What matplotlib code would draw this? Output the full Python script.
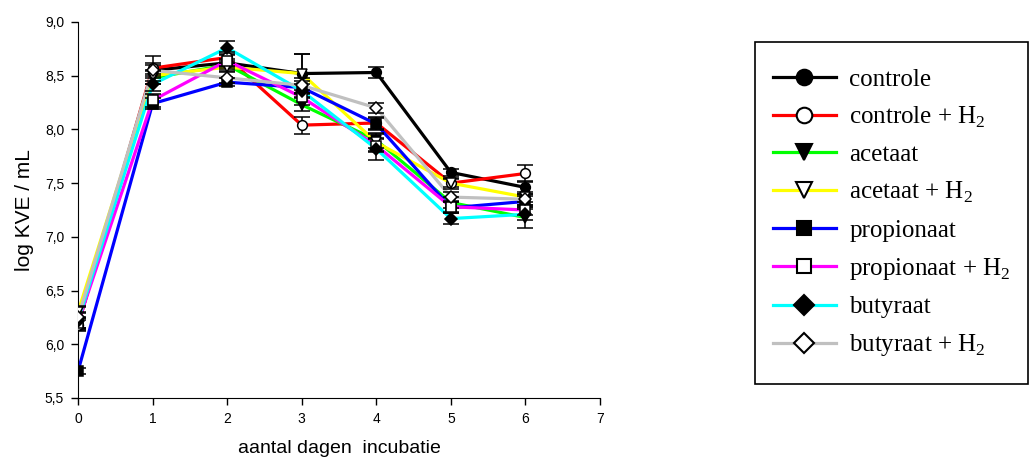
import matplotlib
matplotlib.use('Agg')
from matplotlib import pyplot as plt
from matplotlib.lines import Line2D
from matplotlib.patches import Rectangle

plt.rcParams['font.family'] = ['Liberation Sans', 'DejaVu Sans']
plt.rcParams['mathtext.fontset'] = 'custom'
plt.rcParams['mathtext.rm'] = 'Liberation Serif'

# dagen
days = [0, 1, 2, 3, 4, 5, 6]

# log KVE / mL per behandeling
controle = [6.18, 8.55, 8.62, 8.52, 8.53, 7.60, 7.46]
controle_h2 = [6.18, 8.57, 8.67, 8.04, 8.06, 7.50, 7.59]
acetaat = [6.22, 8.48, 8.60, 8.23, 7.90, 7.32, 7.18]
acetaat_h2 = [6.30, 8.50, 8.58, 8.52, 7.88, 7.50, 7.37]
propionaat = [5.75, 8.24, 8.44, 8.39, 8.05, 7.27, 7.33]
propionaat_h2 = [6.20, 8.27, 8.64, 8.30, 7.85, 7.28, 7.25]
butyraat = [6.22, 8.42, 8.76, 8.36, 7.82, 7.17, 7.21]
butyraat_h2 = [6.25, 8.55, 8.48, 8.41, 8.20, 7.37, 7.35]

# standaardafwijking (geschat)
err_controle = [0.05, 0.05, 0.04, 0.18, 0.05, 0.03, 0.06]
err_controle_h2 = [0.06, 0.05, 0.05, 0.08, 0.06, 0.04, 0.08]
err_acetaat = [0.08, 0.06, 0.04, 0.06, 0.07, 0.05, 0.1]
err_acetaat_h2 = [0.06, 0.05, 0.04, 0.18, 0.08, 0.05, 0.05]
err_propionaat = [0.03, 0.05, 0.04, 0.06, 0.06, 0.05, 0.05]
err_propionaat_h2 = [0.05, 0.06, 0.05, 0.07, 0.06, 0.05, 0.05]
err_butyraat = [0.07, 0.06, 0.06, 0.06, 0.1, 0.05, 0.05]
err_butyraat_h2 = [0.1, 0.13, 0.05, 0.07, 0.05, 0.05, 0.05]

labels = ['controle', 'controle + H$_\\mathrm{2}$', 'acetaat', 'acetaat + H$_\\mathrm{2}$',
          'propionaat', 'propionaat + H$_\\mathrm{2}$', 'butyraat', 'butyraat + H$_\\mathrm{2}$']
series = [controle, controle_h2, acetaat, acetaat_h2, propionaat, propionaat_h2, butyraat, butyraat_h2]
errors = [err_controle, err_controle_h2, err_acetaat, err_acetaat_h2,
          err_propionaat, err_propionaat_h2, err_butyraat, err_butyraat_h2]
colors = ['#000000', '#ff0000', '#00ff00', '#ffff00', '#0000ff', '#ff00ff', '#00ffff', '#c0c0c0']
markers = ['o', 'o', 'v', 'v', 's', 's', 'D', 'D']
faces = ['k', 'w', 'k', 'w', 'k', 'w', 'k', 'w']
msizes = [7, 7, 7.5, 7.5, 6.5, 6.5, 6.5, 6.5]

fig = plt.figure(figsize=(10.32, 4.63), dpi=100)
ax = fig.add_axes([0.0756, 0.1404, 0.5058, 0.8121])

for y, e, c, m, f, ms in zip(series, errors, colors, markers, faces, msizes):
    ax.plot(days, y, color=c, linewidth=2.3, zorder=2)
    ax.errorbar(days, y, yerr=e, fmt='none', ecolor='k', elinewidth=1.1, capsize=6, capthick=1.1, zorder=3)
    ax.plot(days, y, linestyle='none', marker=m, markersize=ms, markerfacecolor=f,
            markeredgecolor='k', markeredgewidth=1.1, zorder=4)

ax.set_xlim(0, 7)
ax.set_ylim(5.5, 9.0)
ax.set_xticks(range(8))
ax.set_yticks([5.5, 6.0, 6.5, 7.0, 7.5, 8.0, 8.5, 9.0])
ax.set_yticklabels(['5,5', '6,0', '6,5', '7,0', '7,5', '8,0', '8,5', '9,0'])
ax.tick_params(direction='out', length=5, width=1, labelsize=10, pad=5)
ax.spines['top'].set_visible(False)
ax.spines['right'].set_visible(False)
ax.set_xlabel('aantal dagen  incubatie', fontsize=14, labelpad=10)
ax.set_ylabel('log KVE / mL', fontsize=15, labelpad=8)

# legenda
fig.patches.append(Rectangle((755 / 1032, 1 - 384 / 463), 273 / 1032, 342 / 463,
                             transform=fig.transFigure, fill=False, edgecolor='k', linewidth=1.2))
handles = [Line2D([], [], color=c, linewidth=2.3, marker=m, markersize=ms * 1.6,
                  markerfacecolor=f, markeredgecolor='k', markeredgewidth=1.5)
           for c, m, f, ms in zip(colors, markers, faces, msizes)]
fig.legend(handles, labels, loc='upper left', bbox_to_anchor=(773 / 1032, 1 - 68 / 463),
           frameon=False, prop={'family': 'Liberation Serif', 'size': 18},
           handlelength=2.5, handletextpad=0.55, labelspacing=0.56, borderpad=0, borderaxespad=0)

plt.savefig('out.png', dpi=100)
